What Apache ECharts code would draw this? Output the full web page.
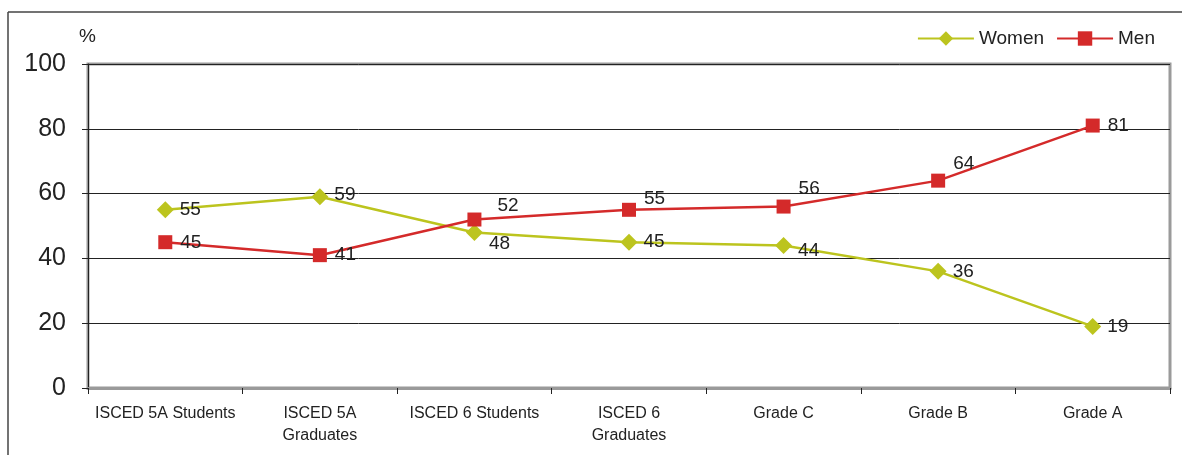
<!DOCTYPE html>
<html>
<head>
<meta charset="utf-8">
<script src="https://cdn.jsdelivr.net/npm/echarts@6/dist/echarts.min.js"></script>
<style>html,body{margin:0;padding:0;background:#fff}#c{width:1182px;height:455px}</style>
</head>
<body>
<div id="c"></div>
<script>
const categories = ['ISCED 5A Students', 'ISCED 5A\nGraduates', 'ISCED 6 Students', 'ISCED 6\nGraduates', 'Grade C', 'Grade B', 'Grade A'];
const women = [55, 59, 48, 45, 44, 36, 19];
const men = [45, 41, 52, 55, 56, 64, 81];
const yTicks = [0, 20, 40, 60, 80, 100];

// label offsets (styling, separate from data)
const womenLabelOffset = [[0,0],[0,-2],[0,11],[0,0],[0,5],[0,0],[0,0]];
const menLabelOffset = [[0,1],[0,0],[8,-14],[0,-11],[0,-18],[0,-17],[0,0]];

const FONT = '"Liberation Sans", Arial, sans-serif';
const chart = echarts.init(document.getElementById('c'));

function build(vals, offs) {
  return vals.map((v, i) => ({ value: v, label: { offset: offs[i] } }));
}

chart.setOption({
  animation: false,
  textStyle: { fontFamily: FONT },
  grid: { left: 88, right: 12, top: 64, bottom: 67, show: true, borderColor: '#9a9a9a', borderWidth: 3, backgroundColor: 'transparent' },
  graphic: [
    { type: 'line', shape: { x1: 8, y1: 12, x2: 1182, y2: 12 }, style: { stroke: '#444', lineWidth: 1.5 } },
    { type: 'line', shape: { x1: 8, y1: 12, x2: 8, y2: 455 }, style: { stroke: '#444', lineWidth: 1.5 } },
    { type: 'text', left: 79, top: 27, style: { text: '%', font: '19px ' + FONT, fill: '#222' } }
  ],
  legend: {
    right: 22, top: 24,
    itemWidth: 56, itemHeight: 18, itemGap: 12,
    textStyle: { fontSize: 19, color: '#222', fontFamily: FONT },
    data: ['Women', 'Men']
  },
  xAxis: {
    type: 'category', data: categories, boundaryGap: true,
    axisLine: { show: true, lineStyle: { color: '#9a9a9a', width: 3 } },
    axisTick: { show: true, length: 6, lineStyle: { color: '#222', width: 1 } },
    axisLabel: { fontSize: 16, color: '#222', margin: 15, lineHeight: 22, interval: 0, fontFamily: FONT }
  },
  yAxis: {
    type: 'value', min: yTicks[0], max: yTicks[yTicks.length - 1], interval: 20,
    axisLine: { show: true, lineStyle: { color: '#222', width: 1 } },
    axisTick: { show: true, length: 6, inside: false, lineStyle: { color: '#222' } },
    axisLabel: { fontSize: 25, color: '#222', margin: 22, fontFamily: FONT },
    splitLine: { show: true, lineStyle: { color: '#222', width: 1 } }
  },
  series: [
    {
      name: 'Women', type: 'line', data: build(women, womenLabelOffset),
      symbol: 'diamond', symbolSize: 17,
      lineStyle: { color: '#bcc41e', width: 2.5 },
      itemStyle: { color: '#bcc41e' },
      label: { show: true, position: 'right', distance: 6, fontSize: 19, color: '#222', fontFamily: FONT },
      z: 3
    },
    {
      name: 'Men', type: 'line', data: build(men, menLabelOffset),
      symbol: 'rect', symbolSize: 14,
      lineStyle: { color: '#d42a2a', width: 2.5 },
      itemStyle: { color: '#d42a2a' },
      label: { show: true, position: 'right', distance: 8, fontSize: 19, color: '#222', fontFamily: FONT },
      z: 4
    }
  ]
});
</script>
</body>
</html>
